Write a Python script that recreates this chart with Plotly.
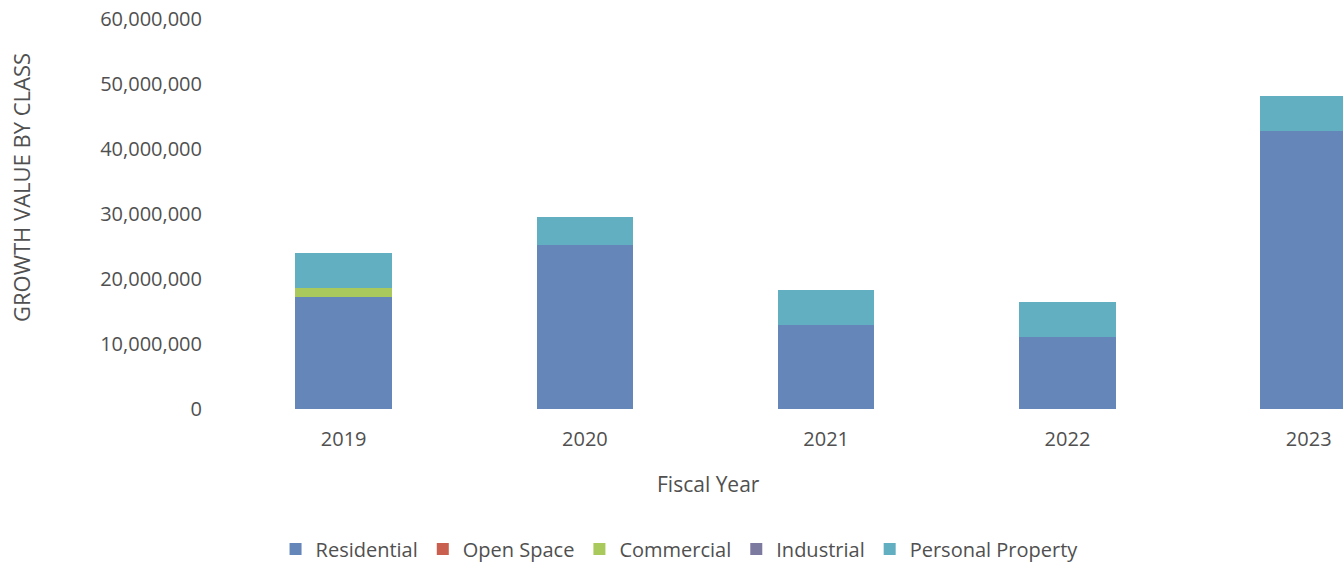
import plotly.graph_objects as go

years = ["2019", "2020", "2021", "2022", "2023"]
residential = [17200000, 25300000, 12900000, 11100000, 42700000]
open_space = [0, 0, 0, 0, 0]
commercial = [1400000, 0, 0, 0, 0]
industrial = [0, 0, 0, 0, 0]
personal_property = [5400000, 4300000, 5400000, 5400000, 5500000]

series = [
    ("Residential", residential, "#6586b8"),
    ("Open Space", open_space, "#c9604f"),
    ("Commercial", commercial, "#a9c95c"),
    ("Industrial", industrial, "#7c7a9e"),
    ("Personal Property", personal_property, "#62afc2"),
]

FONT = "Open Sans"
TXT = "#505050"

fig = go.Figure()
for name, vals, col in series:
    fig.add_trace(go.Bar(x=years, y=vals, name=name, marker=dict(color=col, line=dict(width=0))))

fig.update_layout(
    barmode="stack",
    bargap=0.6,
    width=1343,
    height=563,
    margin=dict(l=223, r=0, t=19, b=154),
    paper_bgcolor="white",
    plot_bgcolor="white",
    font=dict(family=FONT, size=20, color=TXT),
    showlegend=True,
    legend=dict(
        orientation="h",
        xref="container",
        yref="container",
        x=0.506,
        xanchor="center",
        y=(563 - 549) / 563,
        yanchor="middle",
        font=dict(family=FONT, size=20, color=TXT),
        traceorder="normal",
    ),
    xaxis=dict(
        type="category",
        range=[-0.5, 4.142],
        showgrid=False,
        showline=False,
        zeroline=False,
        ticks="",
        ticklabelstandoff=16,
        tickfont=dict(family=FONT, size=20, color=TXT),
    ),
    yaxis=dict(
        range=[0, 60000000],
        tickvals=[0, 10000000, 20000000, 30000000, 40000000, 50000000, 60000000],
        ticktext=["0", "10,000,000", "20,000,000", "30,000,000", "40,000,000", "50,000,000", "60,000,000"],
        showgrid=False,
        showline=False,
        zeroline=False,
        ticks="",
        ticklabelstandoff=20,
        tickfont=dict(family=FONT, size=20, color=TXT),
    ),
)

fig.add_annotation(
    text="GROWTH VALUE BY CLASS",
    xref="paper", yref="paper",
    x=(21 - 223) / 1120, y=(409 - 188) / 390,
    xanchor="center", yanchor="middle",
    textangle=-90, showarrow=False,
    font=dict(family=FONT, size=22, color=TXT),
)

fig.add_annotation(
    text="Fiscal Year",
    xref="paper", yref="paper",
    x=(708 - 223) / 1120, y=(409 - 484) / 390,
    xanchor="center", yanchor="middle",
    showarrow=False,
    font=dict(family=FONT, size=21, color=TXT),
)

fig.write_html("out.html")
